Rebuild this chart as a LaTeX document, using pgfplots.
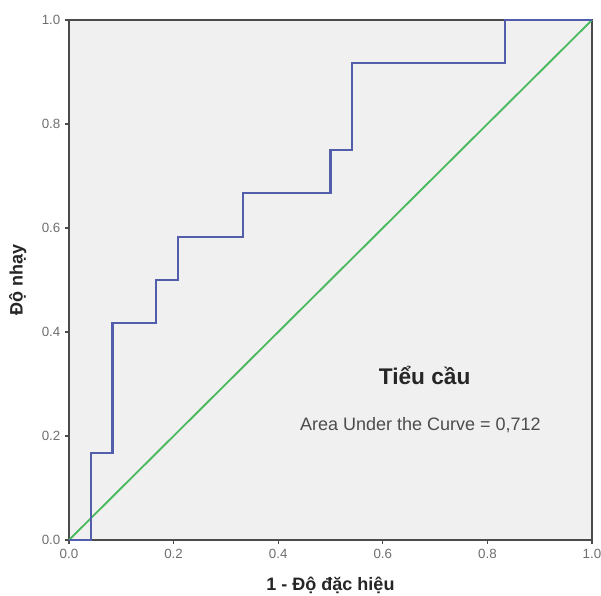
\documentclass[border=0pt]{standalone}
\usepackage{fontspec}
\setmainfont{Liberation Sans}
\usepackage{pgfplots}
\pgfplotsset{compat=1.18}
\definecolor{spssbg}{RGB}{240,240,240}
\definecolor{spssaxis}{RGB}{75,75,75}
\definecolor{spssblue}{RGB}{82,94,172}
\definecolor{spssgreen}{RGB}{75,185,95}
\definecolor{ticktext}{RGB}{110,110,110}

\begin{document}
\begin{tikzpicture}
\begin{axis}[
    scale only axis,
    width=392.25pt, height=390pt,
    xmin=0, xmax=1, ymin=0, ymax=1,
    axis background/.style={fill=spssbg},
    axis line style={spssaxis, line width=1.8pt},
    xtick={0,0.2,...,1}, ytick={0,0.2,...,1},
    tick align=outside, major tick length=3pt,
    tick style={spssaxis, line width=0.9pt},
    xtick pos=bottom, ytick pos=left,
    tick label style={font=\fontsize{10}{12}\selectfont, text=ticktext},
    /pgf/number format/assume math mode=true,
    /pgf/number format/.cd, fixed, fixed zerofill, precision=1,
    /pgfplots/.cd,
    xlabel={\textbf{1 - Độ đặc hiệu}},
    ylabel={\textbf{Độ nhạy}},
    label style={font=\fontsize{13.5}{15}\selectfont, text=black!85},
    xlabel style={at={(axis description cs:0.5,-0.088)}, anchor=center},
    ylabel style={at={(axis description cs:-0.098,0.5)}, anchor=center},
    clip=false,
]
\addplot[spssgreen, line width=1.4pt] coordinates {(0,0) (1,1)};
\addplot[spssblue, line width=1.7pt] coordinates {
    (0,0) (0.0417,0) (0.0417,0.1667) (0.0833,0.1667) (0.0833,0.4167)
    (0.1667,0.4167) (0.1667,0.5) (0.2083,0.5) (0.2083,0.5833)
    (0.3333,0.5833) (0.3333,0.6667) (0.5,0.6667) (0.5,0.75)
    (0.5417,0.75) (0.5417,0.9167) (0.8333,0.9167) (0.8333,1) (1,1)};
\node[font=\fontsize{17}{19}\selectfont\bfseries, text=black!85] at (axis cs:0.68,0.317) {Tiểu cầu};
\node[font=\fontsize{13.5}{15}\selectfont, text=black!70] at (axis cs:0.672,0.221) {Area Under the Curve = 0,712};
\end{axis}
\pgfresetboundingbox
\path (-51.75pt,-42pt) rectangle (399pt,405pt);
\end{tikzpicture}
\end{document}
